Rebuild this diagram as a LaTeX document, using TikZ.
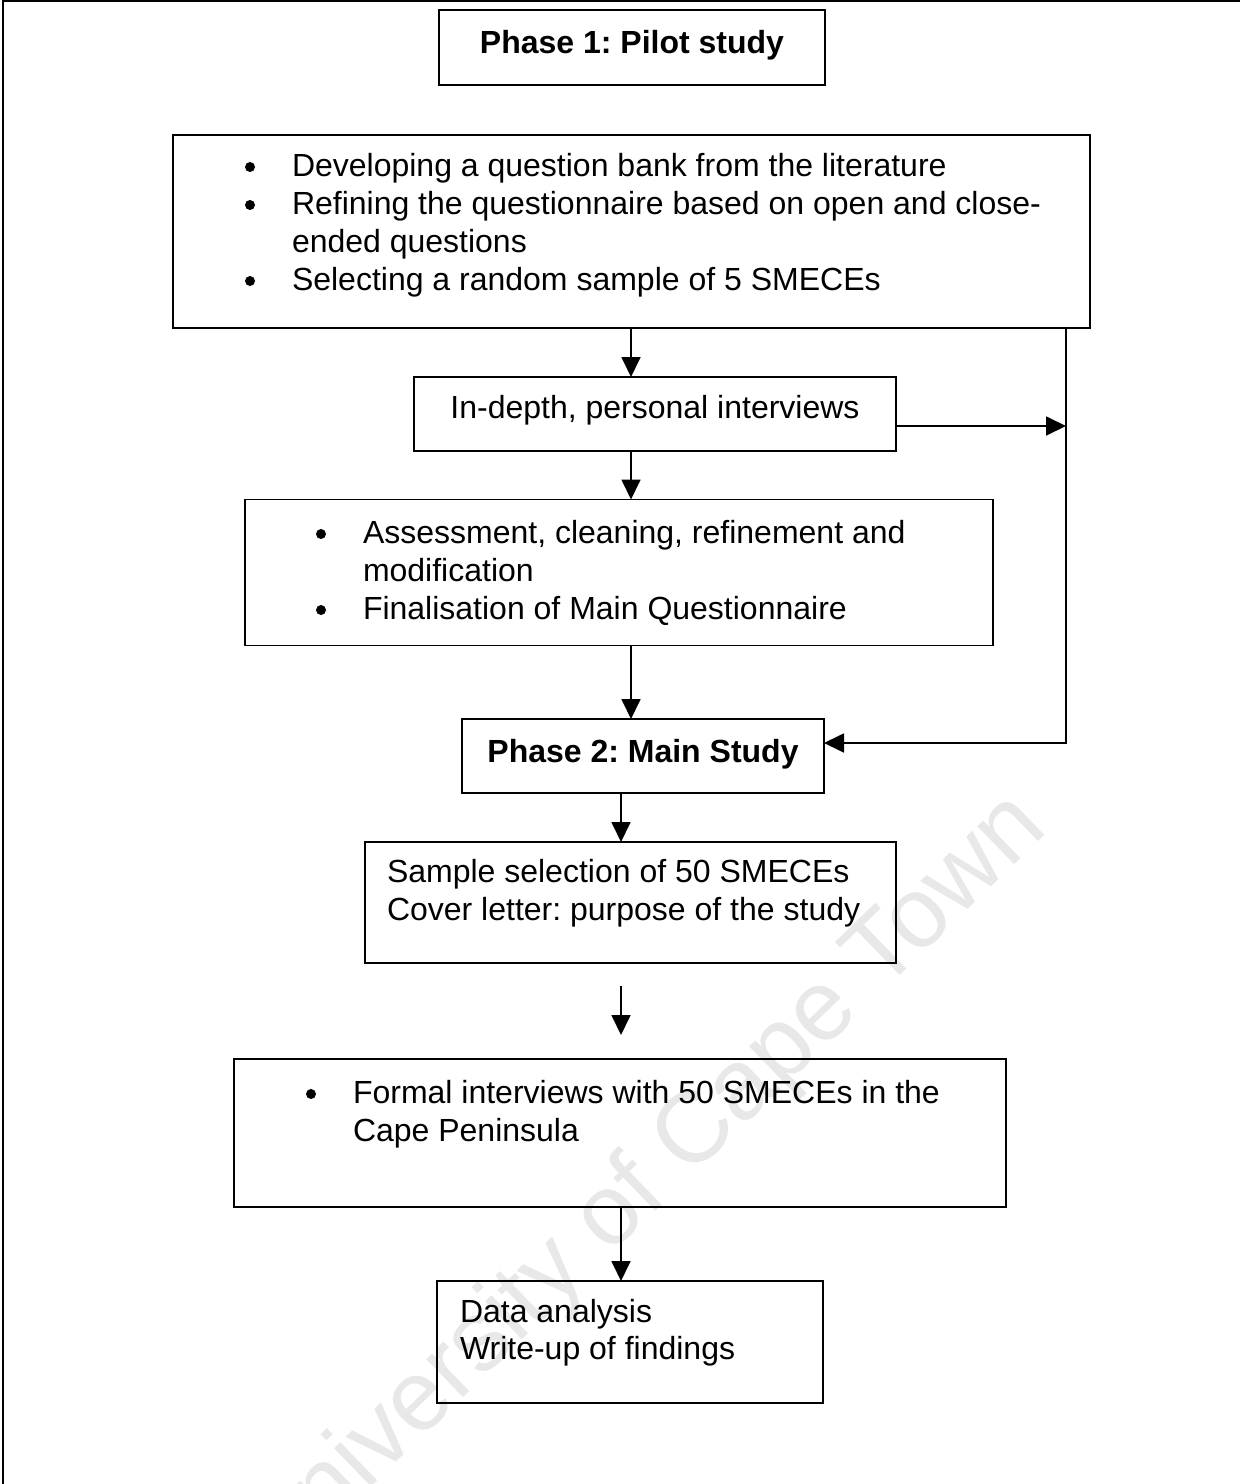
\documentclass[tikz,border=0pt]{standalone}
\usepackage{fontspec}
\setmainfont{Liberation Sans}
\usetikzlibrary{arrows.meta}
\frenchspacing
\begin{document}
\begin{tikzpicture}[x=1pt,y=-1pt,
  box/.style={draw, line width=1.8pt, inner sep=0pt, outer sep=0pt},
  txt/.style={inner sep=0pt, outer sep=0pt, font=\fontsize{32}{38}\selectfont},
  btxt/.style={txt, font=\fontsize{32}{38}\selectfont\bfseries},
  conn/.style={line width=1.8pt, -{Triangle[length=20pt,width=19pt]}},
  bul/.style={fill=black},
  wmark/.style={text=black!9, inner sep=0pt, font=\fontsize{100}{100}\selectfont}]
\useasboundingbox (0,0) rectangle (1240,1484);
\fill[white] (0,0) rectangle (1240,1484);
% watermark
\node[wmark, rotate=44] (wm) at (644,1187) {University of Cape Town};
% frame
\draw[line width=1.5pt] (3,1484) -- (3,1) -- (1240,1);
% boxes
\node[box, minimum width=386pt, minimum height=75pt] (p1) at (632,47.5) {};
\node[box, minimum width=917pt, minimum height=193pt] (b2) at (631.5,231.5) {};
\node[box, minimum width=482pt, minimum height=74pt] (iv) at (655,414) {};
\node[box, minimum width=748pt, minimum height=146pt] (as) at (619,572.5) {};
\node[box, minimum width=362pt, minimum height=74pt] (p2) at (643,756) {};
\node[box, minimum width=531pt, minimum height=121pt] (sm) at (630.5,902.5) {};
\node[box, minimum width=772pt, minimum height=148pt] (fm) at (620,1133) {};
\node[box, minimum width=386pt, minimum height=122pt] (da) at (630,1342) {};
% texts
\node[btxt, anchor=base] (p1t) at (632,53) {Phase 1: Pilot study};
\fill[bul] (250,167) circle (5pt);
\node[txt, anchor=base west] (b2a) at (292,176) {Developing a question bank from the literature};
\fill[bul] (250,205) circle (5pt);
\node[txt, anchor=base west] (b2b) at (292,214) {Refining the questionnaire based on open and close-};
\node[txt, anchor=base west] (b2c) at (292,252) {ended questions};
\fill[bul] (250,281) circle (5pt);
\node[txt, anchor=base west] (b2d) at (292,290) {Selecting a random sample of 5 SMECEs};
\node[txt, anchor=base] (ivt) at (655,418) {In-depth, personal interviews};
\fill[bul] (321,534) circle (5pt);
\node[txt, anchor=base west] (asa) at (363,543) {Assessment, cleaning, refinement and};
\node[txt, anchor=base west] (asb) at (363,581) {modification};
\fill[bul] (321,610) circle (5pt);
\node[txt, anchor=base west] (asc) at (363,619) {Finalisation of Main Questionnaire};
\node[btxt, anchor=base] (p2t) at (643,762) {Phase 2: Main Study};
\node[txt, anchor=base west] (sma) at (387,882) {Sample selection of 50 SMECEs};
\node[txt, anchor=base west] (smb) at (387,920) {Cover letter: purpose of the study};
\fill[bul] (311,1094) circle (5pt);
\node[txt, anchor=base west] (fma) at (353,1103) {Formal interviews with 50 SMECEs in the};
\node[txt, anchor=base west] (fmb) at (353,1141) {Cape Peninsula};
\node[txt, anchor=base west] (daa) at (460,1322) {Data analysis};
\node[txt, anchor=base west] (dab) at (460,1359) {Write-up of findings};
% coordinates
\coordinate (c1) at (631,0);
\coordinate (c2) at (621,0);
\coordinate (rj) at (1066,426);
\coordinate (rc) at (1066,743);
\coordinate (fa1) at (621,986);
\coordinate (fa2) at (621,1035);
% connectors
\draw[conn] (b2.south -| c1) -- (iv.north -| c1);
\draw[conn] (iv.south -| c1) -- (as.north -| c1);
\draw[conn] (as.south -| c1) -- (p2.north -| c1);
\draw[conn] (p2.south -| c2) -- (sm.north -| c2);
\draw[conn] (fa1) -- (fa2);
\draw[conn] (fm.south -| c2) -- (da.north -| c2);
\draw[conn] (rj -| iv.east) -- (rj);
\draw[conn] (b2.south -| rc) -- (rc) -- (rc -| p2.east);
\end{tikzpicture}
\end{document}
